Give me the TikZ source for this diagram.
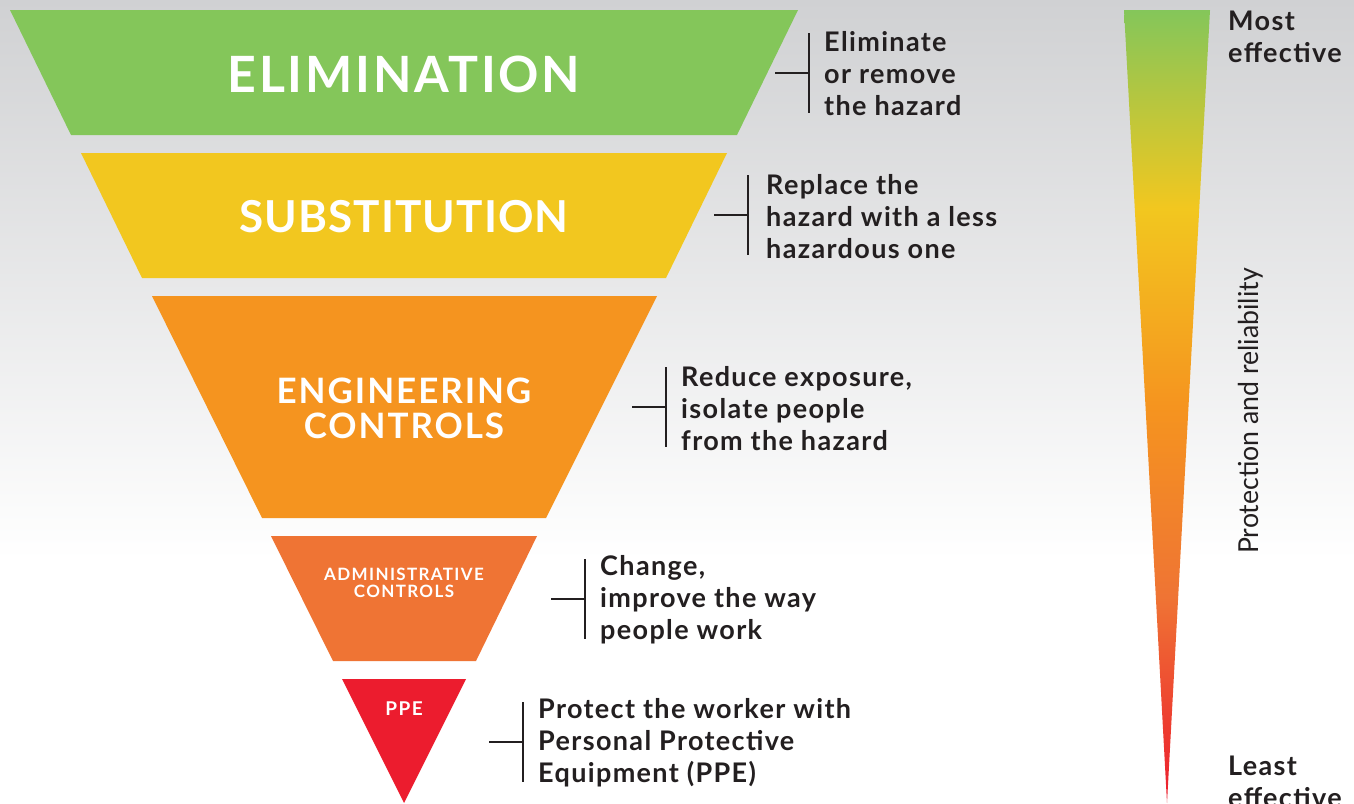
\documentclass[tikz,border=0pt]{standalone}
\usepackage{fontspec}
\setmainfont{Lato}
\definecolor{cElim}{RGB}{132,198,90}
\definecolor{cSub}{RGB}{242,199,31}
\definecolor{cEng}{RGB}{245,148,31}
\definecolor{cAdm}{RGB}{239,116,52}
\definecolor{cPPE}{RGB}{236,28,46}
\definecolor{bgtop}{RGB}{208,209,211}
\definecolor{ink}{RGB}{35,31,32}
\pgfdeclareverticalshading{effgrad}{100bp}{color(0bp)=(cPPE); color(25bp)=(cPPE); color(38bp)=(cAdm); color(50bp)=(cEng); color(62.5bp)=(cSub); color(75bp)=(cElim); color(100bp)=(cElim)}
\newcommand{\lvlfont}[2]{\bfseries\fontsize{#1}{#1}\selectfont\addfontfeature{LetterSpace=#2}}
\tikzset{
  lvl/.style={text=white, align=center, inner sep=0pt},
  desc/.style={text=ink, font=\bfseries\fontsize{27}{32}\selectfont\addfontfeature{LetterSpace=5}, align=left, anchor=west, inner sep=0pt},
  brk/.style={draw=ink, line width=2pt},
}
\begin{document}
\begin{tikzpicture}[x=1pt,y=-1pt]
\useasboundingbox (0,0) rectangle (1354,803);
% background
\shade[top color=bgtop, bottom color=white] (0,0) rectangle (1354,560);
\fill[white] (0,560) rectangle (1354,803);
% funnel levels
\fill[cElim] (10,10) -- (798,10) -- (737,135) -- (71,135) -- cycle;
\fill[cSub] (81,153) -- (727,153) -- (666,278) -- (142,278) -- cycle;
\fill[cEng] (152,296) -- (657,296) -- (546,518) -- (262,518) -- cycle;
\fill[cAdm] (271,536) -- (537,536) -- (476,661) -- (333,661) -- cycle;
\fill[cPPE] (342,679) -- (466,679) -- (404,803) -- cycle;
% level labels
\node[lvl, font=\lvlfont{50}{5.5}] (lElim) at (404,74) {ELIMINATION};
\node[lvl, font=\lvlfont{44}{2.5}] (lSub) at (404,217) {SUBSTITUTION};
\node[lvl, font=\lvlfont{35}{5.5}, align=center] (lEng) at (404,408) {ENGINEERING\\[0pt]CONTROLS};
\node[lvl, font=\lvlfont{17}{8}] (lAdm) at (404,583) {ADMINISTRATIVE\\CONTROLS};
\node[lvl, font=\lvlfont{19}{8}] (lPPE) at (404,709) {PPE};
% brackets and descriptions
\foreach \n/\vx/\my in {1/809/73, 2/748/215, 3/666/407, 4/585/599, 5/523/742}{
  \coordinate (v\n t) at (\vx,\my-40);
  \coordinate (v\n b) at (\vx,\my+40);
  \coordinate (v\n m) at (\vx,\my);
  \coordinate (h\n) at (\vx-34,\my);
  \draw[brk] (v\n t) -- (v\n b);
  \draw[brk] (h\n) -- (v\n m);
}
\node[desc] (d1) at (824,74) {Eliminate\\or remove\\the hazard};
\node[desc] (d2) at (766,217) {Replace the\\hazard with a less\\hazardous one};
\node[desc] (d3) at (681,409) {Reduce exposure,\\isolate people\\from the hazard};
\node[desc] (d4) at (600,600) {Change,\\improve the way\\people work};
\node[desc] (d5) at (538,743) {Protect the worker with\\Personal Protective\\Equipment (PPE)};
% effectiveness scale
\shade[shading=effgrad] (1124,10) -- (1210,10) -- (1167,803) -- cycle;
\node[desc, anchor=north west] (most) at (1228,11) {Most\\effective};
\node[desc, anchor=north west] (least) at (1228,756) {Least\\effective};
\node[text=ink, inner sep=0pt, rotate=90, font=\fontsize{27.5}{27.5}\selectfont] (prot) at (1251,411) {\scalebox{0.97}[1]{Protection and reliability}};
\end{tikzpicture}
\end{document}
